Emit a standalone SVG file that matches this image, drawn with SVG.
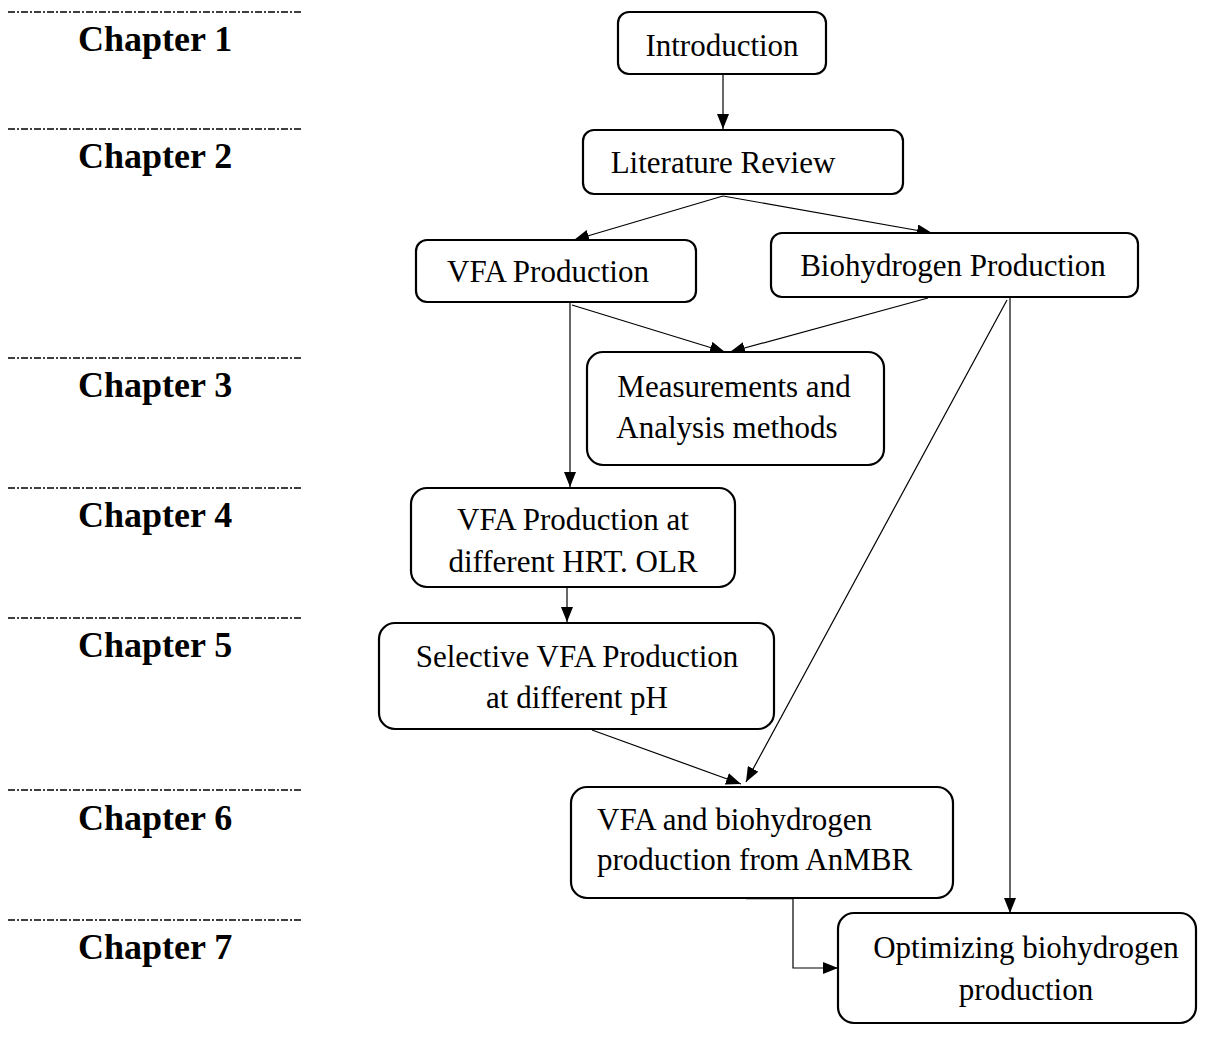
<svg xmlns="http://www.w3.org/2000/svg" width="1209" height="1057" viewBox="0 0 1209 1057">
<style>
.box{fill:#fff;stroke:#000;stroke-width:2.2}
.t{font-family:"Liberation Serif","Times New Roman",serif;font-size:31px;fill:#000}
.ch{font-family:"Liberation Serif","Times New Roman",serif;font-size:36px;font-weight:bold;fill:#000}
.dl{stroke:#000;stroke-width:1.3;stroke-dasharray:7,2,2,2;fill:none}
.c{stroke:#000;stroke-width:1.2;fill:none}
</style>
<defs>
<marker id="ah" markerWidth="15" markerHeight="12" refX="15" refY="6" orient="auto" markerUnits="userSpaceOnUse">
<path d="M0,0 L15,6 L0,12 Z" fill="#000"/>
</marker>
</defs>
<rect width="1209" height="1057" fill="#fff"/>
<g id="chapters">
<line class="dl" x1="8" y1="12" x2="302" y2="12"/>
<text class="ch" x="78" y="51">Chapter 1</text>
<line class="dl" x1="8" y1="129" x2="302" y2="129"/>
<text class="ch" x="78" y="168">Chapter 2</text>
<line class="dl" x1="8" y1="358" x2="302" y2="358"/>
<text class="ch" x="78" y="397">Chapter 3</text>
<line class="dl" x1="8" y1="488" x2="302" y2="488"/>
<text class="ch" x="78" y="527">Chapter 4</text>
<line class="dl" x1="8" y1="618" x2="302" y2="618"/>
<text class="ch" x="78" y="657">Chapter 5</text>
<line class="dl" x1="8" y1="790" x2="302" y2="790"/>
<text class="ch" x="78" y="830">Chapter 6</text>
<line class="dl" x1="8" y1="920" x2="302" y2="920"/>
<text class="ch" x="78" y="959">Chapter 7</text>
</g>
<g id="connectors">
<line class="c" x1="723" y1="74" x2="723" y2="129" marker-end="url(#ah)"/>
<line class="c" x1="723" y1="196" x2="574" y2="240" marker-end="url(#ah)"/>
<line class="c" x1="723" y1="196" x2="932" y2="233" marker-end="url(#ah)"/>
<line class="c" x1="572" y1="305" x2="725" y2="352" marker-end="url(#ah)"/>
<line class="c" x1="928" y1="298" x2="730" y2="352" marker-end="url(#ah)"/>
<line class="c" x1="570" y1="303" x2="570" y2="487" marker-end="url(#ah)"/>
<line class="c" x1="567" y1="588" x2="567" y2="622" marker-end="url(#ah)"/>
<line class="c" x1="592" y1="730" x2="741" y2="784" marker-end="url(#ah)"/>
<line class="c" x1="1007" y1="300" x2="746" y2="782" marker-end="url(#ah)"/>
<line class="c" x1="1010" y1="298" x2="1010" y2="913" marker-end="url(#ah)"/>
<line stroke="#000" stroke-width="2.5" x1="746" y1="898" x2="793" y2="898"/>
<polyline class="c" points="793,898 793,968 838,968" marker-end="url(#ah)"/>
</g>
<g id="n1"><rect class="box" x="618" y="12" width="208" height="62" rx="11"/><text class="t" x="722" y="56" text-anchor="middle">Introduction</text></g>
<g id="n2"><rect class="box" x="583" y="130" width="320" height="64" rx="11"/><text class="t" x="723" y="173" text-anchor="middle">Literature Review</text></g>
<g id="n3"><rect class="box" x="416" y="240" width="280" height="62" rx="11"/><text class="t" x="548" y="282" text-anchor="middle">VFA Production</text></g>
<g id="n4"><rect class="box" x="771" y="233" width="367" height="64" rx="11"/><text class="t" x="953" y="276" text-anchor="middle">Biohydrogen Production</text></g>
<g id="n5"><rect class="box" x="587" y="352" width="297" height="113" rx="16"/><text class="t" x="734" y="397" text-anchor="middle">Measurements and</text><text class="t" x="727" y="438" text-anchor="middle">Analysis methods</text></g>
<g id="n6"><rect class="box" x="411" y="488" width="324" height="99" rx="16"/><text class="t" x="573" y="530" text-anchor="middle">VFA Production at</text><text class="t" x="573" y="572" text-anchor="middle">different HRT. OLR</text></g>
<g id="n7"><rect class="box" x="379" y="623" width="395" height="106" rx="16"/><text class="t" x="577" y="667" text-anchor="middle">Selective VFA Production</text><text class="t" x="577" y="708" text-anchor="middle">at different pH</text></g>
<g id="n8"><rect class="box" x="571" y="787" width="382" height="111" rx="16"/><text class="t" x="597" y="830">VFA and biohydrogen</text><text class="t" x="597" y="870">production from AnMBR</text></g>
<g id="n9"><rect class="box" x="838" y="913" width="358" height="110" rx="16"/><text class="t" x="1026" y="958" text-anchor="middle">Optimizing biohydrogen</text><text class="t" x="1026" y="1000" text-anchor="middle">production</text></g>
</svg>
